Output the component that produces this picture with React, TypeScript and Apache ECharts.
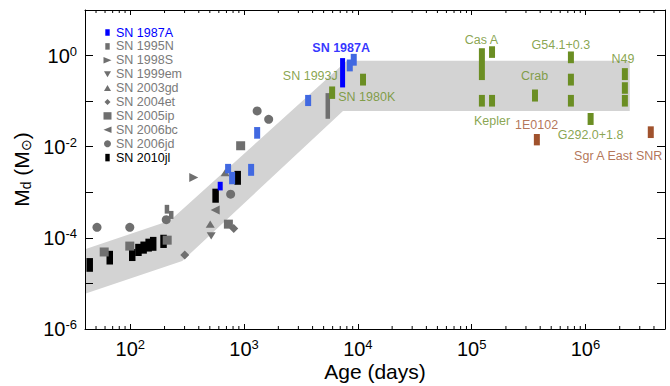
import React, { useEffect, useRef } from 'react';
import * as echarts from 'echarts';

const FONT = '"Liberation Sans", Arial, Helvetica, sans-serif';
const GREEN = '#6b8e23';
const BROWN = '#a0522d';
const BLUE = '#0000ff';
const ROYAL = '#4169e1';
const GRAY = '#6f6f6f';
const GRAY_TEXT = '#7a7a7a';
const BAND = '#d3d3d3';

const X_MIN = 40;
const X_MAX = 5e6;
const Y_MIN = 1e-6;
const Y_MAX = 10;

// Shaded region: upper and lower boundaries [age (days), Md]
const bandUpper: [number, number][] = [[40, 5.6e-5], [224, 2.4e-4], [8000, 0.77], [2.45e6, 0.77]];
const bandLower: [number, number][] = [[40, 5.9e-6], [286, 3.1e-5], [7400, 0.061], [2.45e6, 0.061]];

// Range measurements: [age, Md low, Md high]
const sn2010jl: [number, number, number][] = [
  [44, 1.8e-5, 3.6e-5], [66, 2.6e-5, 5.2e-5], [104, 3.1e-5, 5.7e-5], [118, 4.0e-5, 7.4e-5],
  [131, 4.5e-5, 8.3e-5], [145, 5.0e-5, 9.6e-5], [159, 5.2e-5, 1.05e-4], [196, 6.0e-5, 1.17e-4],
  [562, 5.9e-4, 1.2e-3], [879, 1.46e-3, 2.95e-3],
];
const sn1987a: [number, number, number][] = [[617, 1.1e-3, 1.7e-3], [7340, 0.2, 0.88]];
const sn1987aOther: [number, number, number][] = [
  [724, 2.6e-3, 4.2e-3], [785, 1.5e-3, 2.8e-3], [1153, 2.3e-3, 4.2e-3], [1303, 0.015, 0.027],
  [3655, 0.078, 0.137], [8490, 0.45, 0.82], [9200, 0.6, 1.09],
];
const sn1995n: [number, number, number][] = [[210, 3.4e-4, 5.3e-4], [229, 2.6e-4, 3.9e-4], [5440, 0.041, 0.15]];
const snrGreen: [number, number, number][] = [
  [5940, 0.112, 0.21], // SN 1993J
  [11100, 0.22, 0.4], // SN 1980K
  [1.23e5, 0.29, 1.45], [1.23e5, 0.076, 0.137], // Cas A
  [1.51e5, 0.89, 1.6], [1.51e5, 0.076, 0.137], // Kepler
  [3.6e5, 0.098, 0.18], // Crab
  [7.45e5, 0.68, 1.23], [7.45e5, 0.22, 0.4], [7.45e5, 0.076, 0.137], // G54.1+0.3
  [1.11e6, 0.03, 0.055], // G292.0+1.8
  [2.22e6, 0.29, 0.53], [2.22e6, 0.145, 0.26], [2.22e6, 0.076, 0.137], // N49
];
const snrBrown: [number, number, number][] = [
  [3.74e5, 0.0107, 0.019], // 1E0102
  [3.75e6, 0.0155, 0.028], // Sgr A East SNR
];

// Point measurements: [age, Md]
const sn1998s: [number, number][] = [[361, 2.1e-3]];
const sn1999em: [number, number][] = [[514, 1.1e-4]];
const sn2003gd: [number, number][] = [[504, 2.0e-4], [682, 2.7e-3]];
const sn2004et: [number, number][] = [[301, 4.2e-5], [811, 1.6e-4]];
const sn2005ip: [number, number][] = [[59, 4.9e-5], [99, 6.6e-5], [211, 8.9e-5], [728, 2.0e-4], [933, 1.05e-2]];
const sn2006bc: [number, number][] = [[557, 4.1e-4]];
const sn2006jd: [number, number][] = [[51, 1.7e-4], [99, 1.7e-4], [207, 2.5e-4], [762, 9.1e-4], [1303, 0.061], [1645, 0.04]];

// Annotations: text, age, Md, colour
const annoText = ['SN 1987A', 'SN 1993J', 'SN 1980K', 'Cas A', 'G54.1+0.3', 'Crab', 'N49', 'Kepler', '1E0102', 'G292.0+1.8', 'Sgr A East SNR'];
const annoAge = [7130, 3820, 11970, 1.22e5, 6.08e5, 3.57e5, 2.14e6, 1.51e5, 3.72e5, 1.11e6, 1.94e6];
const annoMd = [1.5, 0.359, 0.126, 2.21, 1.74, 0.364, 0.847, 0.0376, 0.03, 0.0185, 6.4e-3];
const annoColor = [BLUE, GREEN, GREEN, GREEN, GREEN, GREEN, GREEN, GREEN, BROWN, GREEN, BROWN];

// Legend
const legendNames = ['SN 1987A', 'SN 1995N', 'SN 1998S', 'SN 1999em', 'SN 2003gd', 'SN 2004et', 'SN 2005ip', 'SN 2006bc', 'SN 2006jd', 'SN 2010jl'];
const legendShapes = ['bar', 'bar', 'triRight', 'triDown', 'triUp', 'diamond', 'square', 'triLeft', 'circle', 'bar'];
const legendMarkColors = [BLUE, GRAY, GRAY, GRAY, GRAY, GRAY, GRAY, GRAY, GRAY, '#000'];
const legendTextColors = [BLUE, GRAY_TEXT, GRAY_TEXT, GRAY_TEXT, GRAY_TEXT, GRAY_TEXT, GRAY_TEXT, GRAY_TEXT, GRAY_TEXT, '#000'];

const SYM_RIGHT = 'path://M0,0L10,5L0,10Z';
const SYM_LEFT = 'path://M10,0L0,5L10,10Z';
const SYM_DOWN = 'path://M0,0L10,0L5,9Z';
const SYM_UP = 'path://M5,0L10,9L0,9Z';

function rangeSeries(name: string, data: [number, number, number][], color: string, width: number, z: number) {
  return {
    type: 'custom',
    name,
    coordinateSystem: 'cartesian2d',
    silent: true,
    z,
    data,
    encode: { x: 0, y: [1, 2] },
    renderItem: (_p: any, api: any) => {
      const x = api.value(0);
      const lo = api.value(1);
      const hi = api.value(2);
      const top = api.coord([x, hi]);
      const bot = api.coord([x, lo]);
      return {
        type: 'rect',
        shape: { x: top[0] - width / 2, y: top[1], width, height: bot[1] - top[1] },
        style: { fill: color },
      };
    },
  };
}

function pointSeries(name: string, data: [number, number][], symbol: string, size: number | number[], z: number) {
  return {
    type: 'scatter',
    name,
    data,
    symbol,
    symbolSize: size,
    symbolKeepAspect: true,
    silent: true,
    z,
    itemStyle: { color: GRAY, opacity: 1 },
  };
}

const powLabel = (v: number, evenOnly: boolean) => {
  const l = Math.log10(v);
  const e = Math.round(l);
  if (Math.abs(l - e) > 1e-6) return '';
  if (evenOnly && e % 2 !== 0) return '';
  return `{b|10}{s|${e}}`;
};

const labelRich = {
  b: { fontSize: 20, lineHeight: 22, fontFamily: FONT, color: '#000' },
  s: { fontSize: 13, lineHeight: 13, verticalAlign: 'top', fontFamily: FONT, color: '#000' },
};

function buildLegend() {
  const children: any[] = [];
  const cx = 107.5;
  const cy0 = 32.5;
  const step = 13.9;
  legendNames.forEach((name, i) => {
    const cy = cy0 + i * step;
    const fill = legendMarkColors[i];
    const shape = legendShapes[i];
    if (shape === 'bar') {
      const h = i === 9 ? 7.5 : 6.5;
      children.push({ type: 'rect', shape: { x: cx - 2.2, y: cy - h / 2, width: 4.4, height: h }, style: { fill } });
    } else if (shape === 'square') {
      children.push({ type: 'rect', shape: { x: cx - 4, y: cy - 3.7, width: 8, height: 7.4 }, style: { fill } });
    } else if (shape === 'circle') {
      children.push({ type: 'circle', shape: { cx, cy, r: 3.5 }, style: { fill } });
    } else {
      let pts: number[][] = [];
      if (shape === 'triRight') pts = [[cx - 4, cy - 3.3], [cx + 4, cy], [cx - 4, cy + 3.3]];
      if (shape === 'triLeft') pts = [[cx + 4, cy - 3.3], [cx - 4, cy], [cx + 4, cy + 3.3]];
      if (shape === 'triDown') pts = [[cx - 3.5, cy - 3], [cx + 3.5, cy - 3], [cx, cy + 3]];
      if (shape === 'triUp') pts = [[cx, cy - 3.2], [cx + 3.5, cy + 3], [cx - 3.5, cy + 3]];
      if (shape === 'diamond') pts = [[cx, cy - 3], [cx + 3, cy], [cx, cy + 3], [cx - 3, cy]];
      children.push({ type: 'polygon', shape: { points: pts }, style: { fill } });
    }
    children.push({
      type: 'text',
      x: 116,
      y: cy,
      style: {
        text: name,
        fill: legendTextColors[i],
        font: `12.5px ${FONT}`,
        align: 'left',
        verticalAlign: 'middle',
      },
    });
  });
  return children;
}

export default function App() {
  const ref = useRef<HTMLDivElement>(null);

  useEffect(() => {
    if (!ref.current) return;
    const chart = echarts.init(ref.current, undefined, { renderer: 'svg' });

    const xMinor: number[] = [];
    for (let k = 1; k <= 6; k++) {
      for (let m = 2; m <= 9; m++) {
        const v = m * Math.pow(10, k);
        if (v > X_MIN && v < X_MAX) xMinor.push(v);
      }
    }

    const bandPolygon = [...bandUpper, ...bandLower.slice().reverse()];

    const axisLineStyle = { color: '#000', width: 1 };

    const option: any = {
      animation: false,
      textStyle: { fontFamily: FONT },
      grid: { left: 85, right: 5, top: 10, bottom: 57, outerBoundsMode: 'none', containLabel: false },
      xAxis: [
        {
          type: 'log',
          logBase: 10,
          min: X_MIN,
          max: X_MAX,
          position: 'bottom',
          z: 10,
          axisLine: { show: true, lineStyle: axisLineStyle },
          axisTick: { show: true, inside: true, length: 5, lineStyle: axisLineStyle },
          splitLine: { show: false },
          axisLabel: { margin: 9, formatter: (v: number) => powLabel(v, false), rich: labelRich },
          name: 'Age (days)',
          nameLocation: 'middle',
          nameGap: 32,
          nameMoveOverlap: false,
          nameTextStyle: { fontSize: 21, color: '#000', fontFamily: FONT },
        },
        {
          type: 'log',
          logBase: 10,
          min: X_MIN,
          max: X_MAX,
          position: 'top',
          z: 10,
          axisLine: { show: true, lineStyle: axisLineStyle },
          axisTick: { show: true, inside: true, length: 5, lineStyle: axisLineStyle },
          splitLine: { show: false },
          axisLabel: { show: false },
        },
      ],
      yAxis: [
        {
          type: 'log',
          logBase: 10,
          min: Y_MIN,
          max: Y_MAX,
          interval: 1,
          position: 'left',
          z: 10,
          axisLine: { show: true, lineStyle: axisLineStyle },
          axisTick: { show: true, inside: true, length: 8, lineStyle: axisLineStyle },
          splitLine: { show: false },
          axisLabel: { margin: 8, formatter: (v: number) => powLabel(v, true), rich: labelRich },
          name: '{m|M}{sub|d}{m| (M}{sub|⊙}{m|)}',
          nameLocation: 'middle',
          nameGap: 52,
          nameMoveOverlap: false,
          nameTextStyle: {
            fontFamily: FONT,
            rich: {
              m: { fontSize: 21, lineHeight: 24, color: '#000', fontFamily: FONT },
              sub: { fontSize: 14, lineHeight: 14, verticalAlign: 'bottom', color: '#000', fontFamily: FONT },
            },
          },
        },
        {
          type: 'log',
          logBase: 10,
          min: Y_MIN,
          max: Y_MAX,
          interval: 1,
          position: 'right',
          z: 10,
          axisLine: { show: true, lineStyle: axisLineStyle },
          axisTick: { show: true, inside: true, length: 8, lineStyle: axisLineStyle },
          splitLine: { show: false },
          axisLabel: { show: false },
        },
      ],
      graphic: { elements: buildLegend() },
      series: [
        {
          type: 'custom',
          name: 'band',
          coordinateSystem: 'cartesian2d',
          silent: true,
          z: 1,
          data: [bandUpper[1]],
          renderItem: (_p: any, api: any) => ({
            type: 'polygon',
            shape: { points: bandPolygon.map((p) => api.coord(p)) },
            style: { fill: BAND },
          }),
        },
        rangeSeries('SN 2010jl', sn2010jl, '#000', 6.5, 3),
        rangeSeries('SN 1995N', sn1995n, GRAY, 4.5, 4),
        pointSeries('SN 1998S', sn1998s, SYM_RIGHT, 9, 4),
        pointSeries('SN 1999em', sn1999em, SYM_DOWN, [9, 8], 4),
        pointSeries('SN 2003gd', sn2003gd, SYM_UP, [9, 8], 4),
        pointSeries('SN 2004et', sn2004et, 'diamond', 9, 4),
        pointSeries('SN 2005ip', sn2005ip, 'rect', 9, 4),
        pointSeries('SN 2006bc', sn2006bc, SYM_LEFT, 9, 4),
        pointSeries('SN 2006jd', sn2006jd, 'circle', 9, 4),
        rangeSeries('SN 1987A (other)', sn1987aOther, ROYAL, 6, 5),
        rangeSeries('SN 1987A', sn1987a, BLUE, 5, 6),
        rangeSeries('SNRs', snrGreen, GREEN, 6, 6),
        rangeSeries('SNRs (brown)', snrBrown, BROWN, 6, 6),
        {
          type: 'scatter',
          name: 'labels',
          silent: true,
          z: 8,
          symbolSize: 0,
          data: annoText.map((t, i) => ({
            name: t,
            value: [annoAge[i], annoMd[i]],
            label: { color: annoColor[i], fontWeight: i === 0 ? 'bold' : 'normal' },
          })),
          label: {
            show: true,
            position: 'inside',
            formatter: (p: any) => p.name,
            fontSize: 12.5,
            fontFamily: FONT,
          },
        },
        {
          type: 'custom',
          name: 'minor ticks',
          coordinateSystem: 'cartesian2d',
          silent: true,
          z: 20,
          data: xMinor.map((v) => [v, Y_MIN]),
          encode: { x: 0, y: 1 },
          renderItem: (_p: any, api: any) => {
            const x = api.value(0);
            const b = api.coord([x, Y_MIN]);
            const t = api.coord([x, Y_MAX]);
            return {
              type: 'group',
              children: [
                { type: 'line', shape: { x1: b[0], y1: b[1], x2: b[0], y2: b[1] - 3 }, style: { stroke: '#000', lineWidth: 1 } },
                { type: 'line', shape: { x1: t[0], y1: t[1], x2: t[0], y2: t[1] + 3 }, style: { stroke: '#000', lineWidth: 1 } },
              ],
            };
          },
        },
      ],
    };

    chart.setOption(option);
    return () => chart.dispose();
  }, []);

  return <div ref={ref} style={{ position: 'absolute', left: 0, top: 0, width: 670, height: 386, background: '#fff' }} />;
}
